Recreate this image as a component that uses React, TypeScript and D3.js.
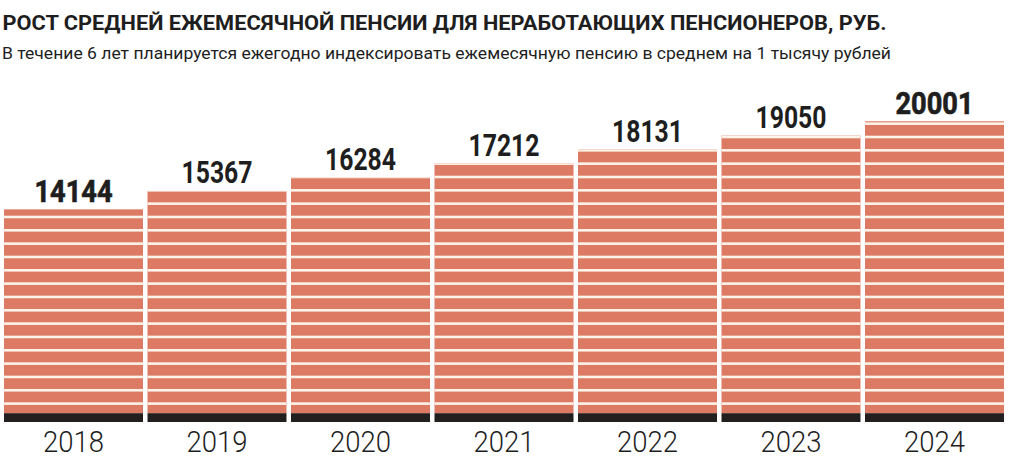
import React from "react";
import * as d3 from "d3";

const years = ["2018", "2019", "2020", "2021", "2022", "2023", "2024"];
const values = [14144, 15367, 16284, 17212, 18131, 19050, 20001];
const emphasized = [true, false, false, false, false, false, true];
const title = "РОСТ СРЕДНЕЙ ЕЖЕМЕСЯЧНОЙ ПЕНСИИ ДЛЯ НЕРАБОТАЮЩИХ ПЕНСИОНЕРОВ, РУБ.";
const subtitle = "В течение 6 лет планируется ежегодно индексировать ежемесячную пенсию в среднем на 1 тысячу рублей";

const W = 1010;
const H = 459;
const BAR = "#dc7a63";
const GAP = "#fdf3e8";
const BASE = "#231f1f";
const TEXT = "#1e1e1e";

export default function App() {
  const x = d3.scaleBand<string>().domain(years).range([4, 1004]).paddingInner(0.0314).paddingOuter(0);
  const y = d3.scaleLinear().domain([0, 20001]).range([422, 121.3]);
  const baseTop = 413.2;
  const period = 13.33;
  const gapH = 2.6;
  const firstGap = 402.3;

  return (
    <svg width={W} height={H} style={{ position: "absolute", left: 0, top: 0, background: "#fff" }}>
      <text x={2.5} y={30} fontFamily="Roboto" fontWeight={700} fontSize={21} fill={TEXT}
        textLength={884} lengthAdjust="spacingAndGlyphs">{title}</text>
      <text x={2} y={58.5} fontFamily="Roboto" fontWeight={400} fontSize={17} fill={TEXT}
        textLength={889} lengthAdjust="spacingAndGlyphs">{subtitle}</text>
      {years.map((yr, i) => {
        const bx = x(yr)!;
        const bw = x.bandwidth();
        const top = y(values[i]);
        const gaps: number[] = [];
        for (let g = firstGap; g + gapH > top; g -= period) gaps.push(g);
        return (
          <g key={yr}>
            <rect x={bx} y={top} width={bw} height={baseTop - top} fill={BAR} />
            {gaps.map((g, k) => {
              const gy = Math.max(g, top);
              return <rect key={k} x={bx} y={gy} width={bw} height={g + gapH - gy} fill={GAP} />;
            })}
            <rect x={bx} y={baseTop} width={bw} height={y(0) - baseTop} fill={BASE} />
            <text x={bx + bw / 2} y={top - 7.5} textAnchor="middle" fontFamily="Roboto" fontWeight={700}
              fontSize={31} fill={TEXT} textLength={emphasized[i] ? 78 : 71} lengthAdjust="spacingAndGlyphs"
              stroke={emphasized[i] ? TEXT : "none"} strokeWidth={emphasized[i] ? 0.7 : 0}>
              {values[i]}
            </text>
            <text x={bx + bw / 2} y={452} textAnchor="middle" fontFamily="Roboto" fontWeight={300}
              fontSize={30} fill={TEXT} textLength={61} lengthAdjust="spacingAndGlyphs">
              {yr}
            </text>
          </g>
        );
      })}
    </svg>
  );
}
